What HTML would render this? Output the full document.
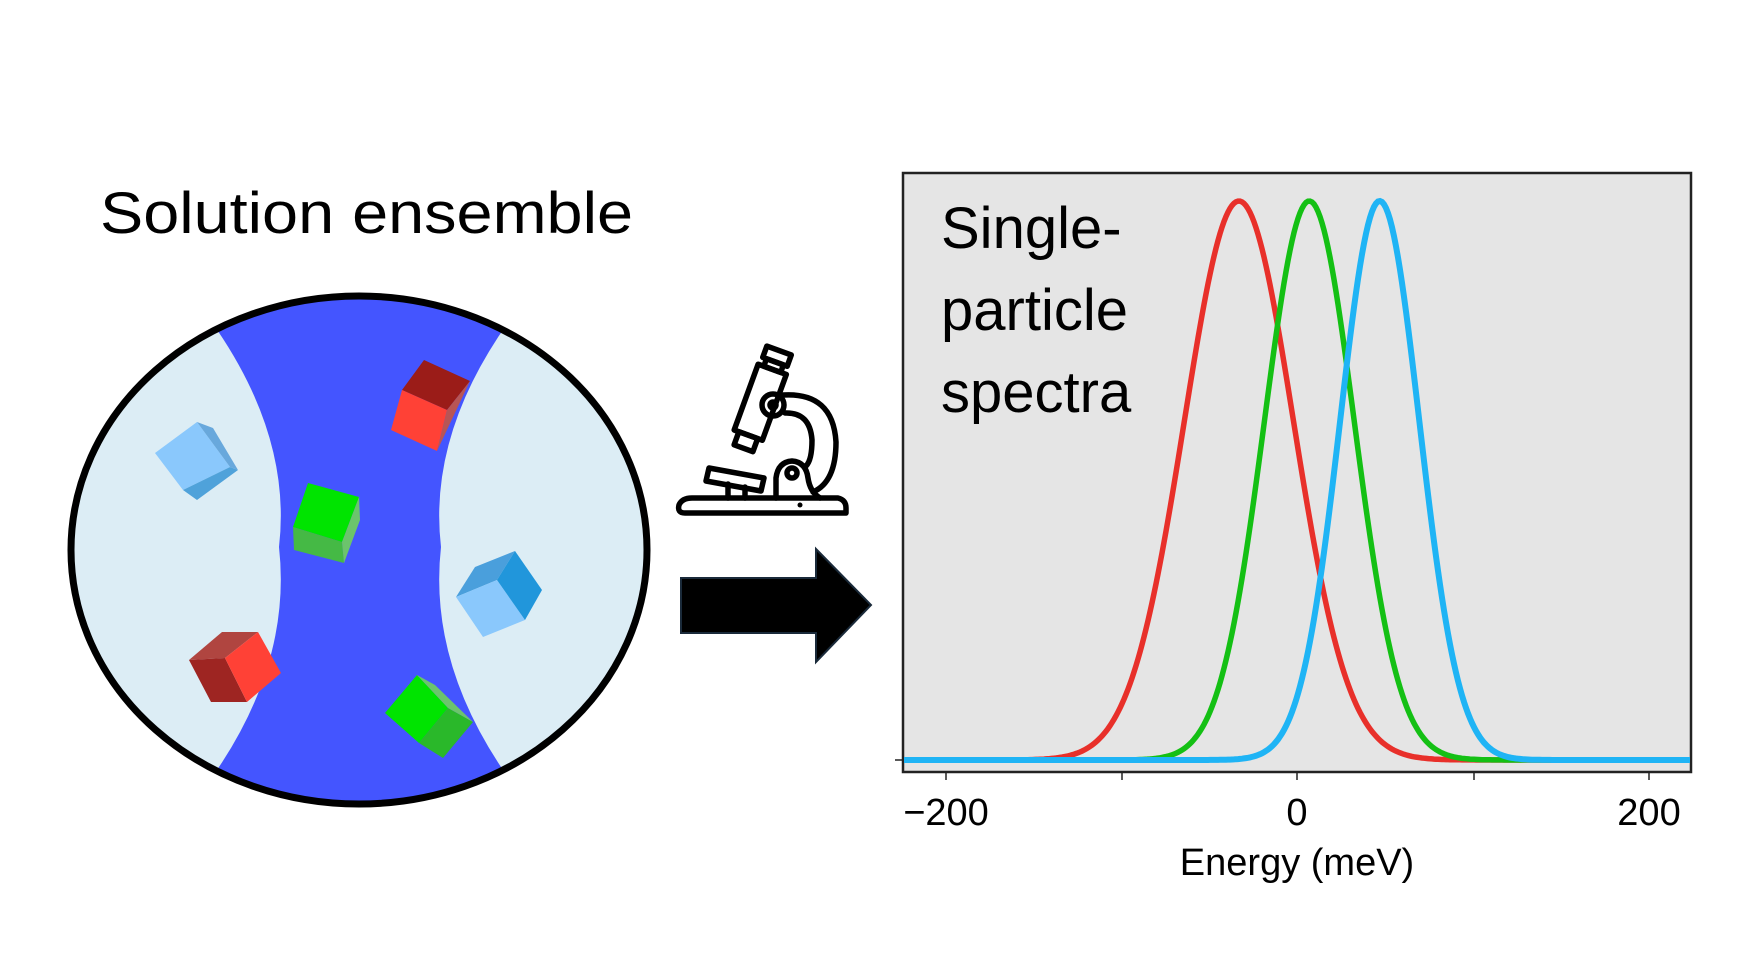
<!DOCTYPE html>
<html><head><meta charset="utf-8"><style>
html,body{margin:0;padding:0;background:#fff;}
svg{display:block;}
text{font-family:"Liberation Sans",sans-serif;}
</style></head><body>
<svg width="1741" height="980" viewBox="0 0 1741 980" xmlns="http://www.w3.org/2000/svg">
<rect width="1741" height="980" fill="#fff"/>
<text x="100" y="233" font-size="58" textLength="533" lengthAdjust="spacingAndGlyphs" fill="#000">Solution ensemble</text>
<defs><clipPath id="ec"><ellipse cx="359" cy="550" rx="288" ry="254"/></clipPath></defs>
<ellipse cx="359" cy="550" rx="288" ry="254" fill="#dcedf5"/>
<g clip-path="url(#ec)">
<path d="M170,270 L550,270 Q425,410 441,547 Q425,690 550,830 L170,830 Q295,690 279,547 Q295,410 170,270 Z" fill="#4455ff"/>
</g>
<ellipse cx="359" cy="550" rx="288" ry="254" fill="none" stroke="#000" stroke-width="7"/>
<polygon points="402,390 424,360 470,381 447,410" fill="#9b1c18"/>
<polygon points="402,390 447,410 437,451 391,430" fill="#ff4136"/>
<polygon points="447,410 470,381 437,451" fill="#b85555"/>
<polygon points="155,453 197,422 230,467 183,490" fill="#8ac8fc"/>
<polygon points="183,490 230,467 238,470 197,500" fill="#4fa2da"/>
<polygon points="197,422 213,428 238,470 230,467" fill="#68a8dc"/>
<polygon points="308,483 359,497 342,542 293,527" fill="#00e400"/>
<polygon points="293,527 342,542 344,563 294,550" fill="#45b945"/>
<polygon points="359,497 360,520 344,563 342,542" fill="#6cc46c"/>
<polygon points="456,597 475,567 515,551 497,580" fill="#4a9fdc"/>
<polygon points="456,597 497,580 525,620 483,637" fill="#8ac8fc"/>
<polygon points="497,580 515,551 542,590 525,620" fill="#2196db"/>
<polygon points="189,660 222,632 258,632 225,658" fill="#b04540"/>
<polygon points="189,660 225,658 247,702 211,702" fill="#9e2522"/>
<polygon points="225,658 258,632 281,673 247,702" fill="#ff4136"/>
<polygon points="385,713 417,675 448,708 419,743" fill="#00e400"/>
<polygon points="419,743 448,708 473,722 443,758" fill="#2ab82a"/>
<polygon points="417,675 435,685 473,722 448,708" fill="#6cc46c"/>
<g fill="none" stroke="#000" stroke-width="5.5" stroke-linejoin="round" stroke-linecap="round">
<path d="M685,513 Q677,513 679,505 Q682,498 692,498 L838,498 Q846,500 846,508 L846,513 Z"/>
<polygon points="709,468 764,478 761,491 706,481"/>
<path d="M728,484 L728,498 M745,487 L745,498"/>
<g transform="rotate(20 760 400)">
<rect x="748" y="347" width="26" height="12"/>
<rect x="752" y="359" width="18" height="8"/>
<rect x="746" y="367" width="30" height="70"/>
<rect x="751" y="437" width="20" height="14"/>
</g>
<circle cx="773" cy="405" r="11"/>
<circle cx="773" cy="405" r="3"/>
<path d="M783,395 Q833,392 836,442 Q836,482 813,492"/>
<path d="M785,413 Q810,412 812,440 Q812,460 806,466"/>
<path d="M776,498 L776,478 Q778,462 792,461 Q806,462 808,478 Q810,492 820,498"/>
<circle cx="792" cy="473" r="5"/>
</g>
<circle cx="800" cy="505" r="2.5" fill="#000"/>
<polygon points="681,578 816,578 816,549 871,605 816,662 816,633 681,633" fill="#000" stroke="#1a2a3a" stroke-width="2"/>
<rect x="903" y="173" width="788" height="599" fill="#e5e5e5" stroke="#222" stroke-width="2.5"/>
<g stroke="#222" stroke-width="1.5">
<line x1="946" y1="772" x2="946" y2="780"/><line x1="1122" y1="772" x2="1122" y2="780"/>
<line x1="1297" y1="772" x2="1297" y2="780"/><line x1="1474" y1="772" x2="1474" y2="780"/>
<line x1="1649" y1="772" x2="1649" y2="780"/><line x1="895" y1="760" x2="903" y2="760"/>
</g>
<g font-size="38" fill="#000" text-anchor="middle">
<text x="946" y="825">−200</text><text x="1297" y="825">0</text><text x="1649" y="825">200</text>
<text x="1297" y="875">Energy (meV)</text>
</g>
<g font-size="58" fill="#000">
<text x="941" y="248">Single-</text><text x="941" y="330">particle</text><text x="941" y="412">spectra</text>
</g>
<path id="r" fill="none" stroke="#e8302a" stroke-width="5.5"/>
<path id="g" fill="none" stroke="#14c014" stroke-width="5.5"/>
<path id="b" fill="none" stroke="#1fb4f5" stroke-width="6"/>
</svg>
<script>
function mk(id,c,s){var d="";for(var x=904;x<=1690;x+=2){var e=(x-1297)/1.76;var y=760-559*Math.exp(-Math.pow(e-c,2)/(2*s*s));d+=(d?"L":"M")+x+","+y.toFixed(1);}document.getElementById(id).setAttribute("d",d);}
mk("r",-33,31);mk("g",7,25.5);mk("b",47,22.5);
</script>
</body></html>
